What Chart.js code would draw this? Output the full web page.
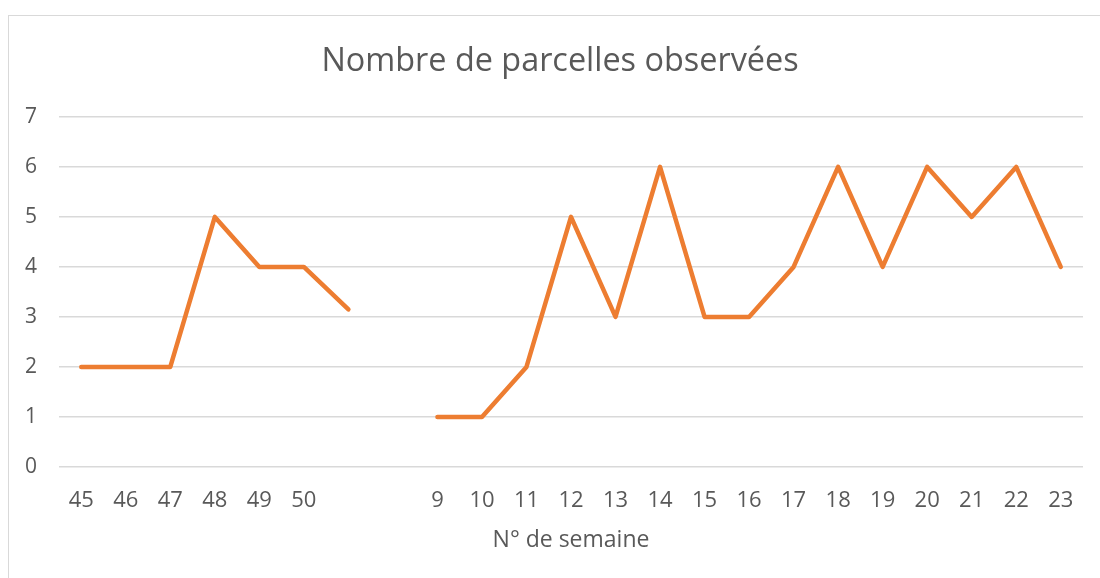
<!DOCTYPE html>
<html>
<head>
<meta charset="utf-8">
<script src="https://cdn.jsdelivr.net/npm/chart.js@4.4.1/dist/chart.umd.min.js"></script>
<style>
  html, body { margin: 0; padding: 0; background: #fff; }
  #wrap { position: relative; width: 1100px; height: 578px; overflow: hidden; }
  #frame { position: absolute; left: 8px; top: 15px; width: 1200px; height: 700px; border: 1px solid #d9d9d9; }
  canvas { position: absolute; left: 0; top: 0; }
</style>
</head>
<body>
<div id="wrap">
  <div id="frame"></div>
  <canvas id="chart" width="1100" height="578"></canvas>
</div>
<script>
// weeks (two blank slots between week 50 and week 9)
const weeks = ["45", "46", "47", "48", "49", "50", "", "", "9", "10", "11", "12", "13", "14", "15", "16", "17", "18", "19", "20", "21", "22", "23"];
const parcels = [2, 2, 2, 5, 4, 4, 3.15, null, 1, 1, 2, 5, 3, 6, 3, 3, 4, 6, 4, 6, 5, 6, 4];
const yMin = 0;
const yMax = 7;
const yStep = 1;

const textColor = "#595959";
const gridColor = "#d9d9d9";
const fontFamily = "'Open Sans', sans-serif";

const ctx = document.getElementById("chart").getContext("2d");

new Chart(ctx, {
  type: "line",
  data: {
    labels: weeks,
    datasets: [
      {
        label: "Nombre de parcelles observées",
        data: parcels,
        borderColor: "#ED7D31",
        borderWidth: 4.5,
        borderCapStyle: "round",
        borderJoinStyle: "round",
        pointRadius: 0,
        tension: 0,
        spanGaps: false,
      },
    ],
  },
  options: {
    responsive: false,
    animation: false,
    layout: {
      padding: { left: 0, right: 17, top: 0, bottom: 0 },
    },
    scales: {
      x: {
        offset: true,
        grid: { display: false },
        border: { display: false },
        ticks: {
          color: textColor,
          font: { family: fontFamily, size: 22 },
          padding: 13,
          maxRotation: 0,
          autoSkip: false,
        },
        title: {
          display: true,
          text: "N° de semaine",
          color: textColor,
          font: { family: fontFamily, size: 23 },
          padding: { top: 0, bottom: 24 },
        },
        afterFit: (scale) => {
          scale.height = 111;
        },
      },
      y: {
        min: yMin,
        max: yMax,
        grid: {
          color: gridColor,
          lineWidth: 1.5,
          drawTicks: false,
        },
        border: { display: false },
        ticks: {
          stepSize: yStep,
          color: textColor,
          font: { family: fontFamily, size: 21 },
          padding: 22,
        },
        afterFit: (scale) => {
          scale.width = 59;
        },
      },
    },
    plugins: {
      legend: { display: false },
      tooltip: { enabled: false },
      title: {
        display: true,
        text: "Nombre de parcelles observées",
        color: textColor,
        font: { family: fontFamily, size: 32.4, weight: "normal" },
        padding: { top: 42, bottom: 36 },
      },
    },
  },
  plugins: [
    {
      // centre the title on the chart frame (x = 8 .. 1112)
      id: "titleShift",
      afterLayout(chart) {
        const t = chart.titleBlock;
        if (t) {
          t.left = 20;
          t.right = 1100;
        }
      },
    },
  ],
});
</script>
</body>
</html>
